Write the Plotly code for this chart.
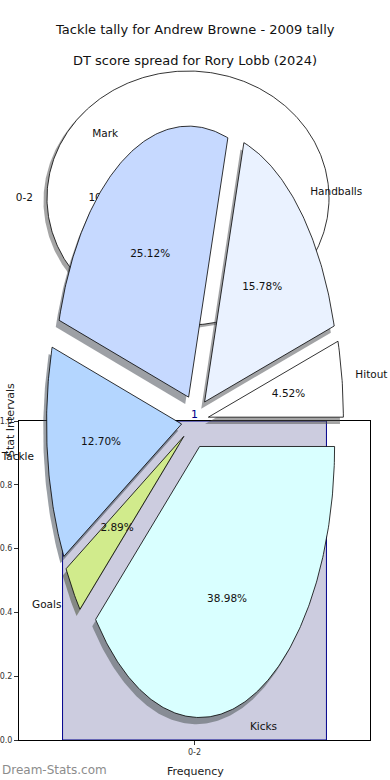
import numpy as np
import plotly.graph_objects as go

# ---------------- data ----------------
categories = ["Hitout", "Handballs", "Mark", "Tackle", "Goals", "Kicks"]
shares = [4.52, 15.78, 25.12, 12.70, 2.89, 38.98]
slice_colors = ["#ffffff", "#eaf2ff", "#c6d9ff", "#b4d6ff", "#d1eb8c", "#d9ffff"]

tally_labels = ["0-2"]
tally_values = [1]
tally_colors = ["#ffffff"]

hist_bins = ["0-2"]
hist_counts = [1]

y_ticks = [0.0, 0.2, 0.4, 0.6, 0.8, 1.0]

TITLE_1 = "Tackle tally for Andrew Browne - 2009 tally"
TITLE_2 = "DT score spread for Rory Lobb (2024)"

# ---------------- style ----------------
FONT = "DejaVu Sans"
W, H = 390, 780
SHADOW_DX, SHADOW_DY = -0.025, -0.025


def hex_rgb(h):
    h = h.lstrip("#")
    return tuple(int(h[i:i + 2], 16) for i in (0, 2, 4))


def pie_traces(labels, values, colors, explode, xa, ya, pct_fmt, fsize):
    shadows, wedges, texts = [], [], []
    total = float(sum(values))
    start = 0.0
    for lab, val, col in zip(labels, values, colors):
        sweep = 360.0 * val / total
        t1, t2 = start, start + sweep
        mid = np.deg2rad((t1 + t2) / 2.0)
        ox, oy = explode * np.cos(mid), explode * np.sin(mid)
        n = max(10, int(sweep * 1.5))
        th = np.deg2rad(np.linspace(t1, t2, n))
        ax_ = ox + np.cos(th)
        ay_ = oy + np.sin(th)
        if sweep < 359.9:
            px = np.concatenate([[ox], ax_, [ox]])
            py = np.concatenate([[oy], ay_, [oy]])
        else:
            px, py = ax_, ay_
        r, g, b = hex_rgb(col)
        shadows.append(go.Scatter(
            x=px + SHADOW_DX, y=py + SHADOW_DY, mode="lines", fill="toself",
            fillcolor=f"rgba({int(r*0.3)},{int(g*0.3)},{int(b*0.3)},0.5)",
            line=dict(width=0), hoverinfo="skip", showlegend=False,
            xaxis=xa, yaxis=ya))
        wedges.append(go.Scatter(
            x=px, y=py, mode="lines", fill="toself", fillcolor=col,
            line=dict(color="#000000", width=0.8), hoverinfo="skip",
            showlegend=False, xaxis=xa, yaxis=ya))
        c, s = np.cos(mid), np.sin(mid)
        texts.append(go.Scatter(
            x=[ox + 1.1 * c], y=[oy + 1.1 * s], mode="text", text=[lab],
            textposition="middle right" if c >= 0 else "middle left",
            textfont=dict(family=FONT, size=fsize, color="#111111"),
            hoverinfo="skip", showlegend=False, cliponaxis=False,
            xaxis=xa, yaxis=ya))
        texts.append(go.Scatter(
            x=[ox + 0.6 * c], y=[oy + 0.6 * s], mode="text",
            text=[pct_fmt.format(100.0 * val / total)],
            textposition="middle center",
            textfont=dict(family=FONT, size=fsize, color="#111111"),
            hoverinfo="skip", showlegend=False, cliponaxis=False,
            xaxis=xa, yaxis=ya))
        start = t2
    return shadows + wedges + texts


fig = go.Figure()

# histogram (subplot 1)
fig.add_trace(go.Bar(
    x=hist_bins, y=hist_counts, width=0.8,
    marker=dict(color="#ccccdf", line=dict(color="#00008b", width=1)),
    hoverinfo="skip", showlegend=False, xaxis="x", yaxis="y"))
fig.add_trace(go.Scatter(
    x=hist_bins, y=hist_counts, mode="text",
    text=[str(v) for v in hist_counts], textposition="top center",
    textfont=dict(family=FONT, size=11, color="#00008b"),
    cliponaxis=False, hoverinfo="skip", showlegend=False,
    xaxis="x", yaxis="y"))

# white single-slice pie (subplot 2)
for t in pie_traces(tally_labels, tally_values, tally_colors, 0.0,
                    "x2", "y2", "{:.0f}%", 10.5):
    fig.add_trace(t)

# main exploded pie (subplot 3)
for t in pie_traces(categories, shares, slice_colors, 0.1,
                    "x3", "y3", "{:.2f}%", 10.5):
    fig.add_trace(t)

hidden = dict(visible=False, showgrid=False, zeroline=False, fixedrange=True)

# pixel geometry of the stretched pies (centre / radii)
m_cx, m_cy, m_rx, m_ry = 195.0, 421.0, 135.0, 271.0
t_cx, t_cy, t_rx, t_ry = 188.0, 198.0, 141.0, 127.0

fig.update_layout(
    width=W, height=H,
    margin=dict(l=0, r=0, t=0, b=0, autoexpand=False),
    showlegend=False,
    paper_bgcolor="#ffffff", plot_bgcolor="rgba(0,0,0,0)",
    font=dict(family=FONT, color="#222222"),
    xaxis=dict(domain=[19 / W, 370 / W], type="category",
               range=[-0.532, 0.532], showline=True, linecolor="#000000",
               linewidth=1, mirror=True, ticks="outside", ticklen=4,
               tickcolor="#333333", tickfont=dict(size=8, color="#333333"),
               showgrid=False, zeroline=False, fixedrange=True,
               automargin=False),
    yaxis=dict(domain=[40 / H, 359 / H], range=[0, 1.0],
               tickvals=y_ticks, tickformat=".1f", showline=True,
               linecolor="#000000", linewidth=1, mirror=True,
               ticks="outside", ticklen=4, tickcolor="#333333",
               tickfont=dict(size=8, color="#333333"),
               showgrid=False, zeroline=False, fixedrange=True,
               automargin=False),
    xaxis2=dict(domain=[0, 1], anchor="y2",
                range=[-t_cx / t_rx, (W - t_cx) / t_rx], **hidden),
    yaxis2=dict(domain=[0, 1], anchor="x2",
                range=[-(H - t_cy) / t_ry, t_cy / t_ry], **hidden),
    xaxis3=dict(domain=[0, 1], anchor="y3",
                range=[-m_cx / m_rx, (W - m_cx) / m_rx], **hidden),
    yaxis3=dict(domain=[0, 1], anchor="x3",
                range=[-(H - m_cy) / m_ry, m_cy / m_ry], **hidden),
    annotations=[
        dict(text=TITLE_1, x=0.5, y=1 - 30 / H, xref="paper", yref="paper",
             xanchor="center", yanchor="middle", showarrow=False,
             font=dict(size=13, color="#111111")),
        dict(text=TITLE_2, x=0.5, y=1 - 61 / H, xref="paper", yref="paper",
             xanchor="center", yanchor="middle", showarrow=False,
             font=dict(size=13, color="#111111")),
        dict(text="Stat Intervals", x=10 / W, y=1 - 420 / H, xref="paper",
             yref="paper", xanchor="center", yanchor="middle",
             textangle=-90, showarrow=False,
             font=dict(size=11, color="#222222")),
        dict(text="Frequency", x=195 / W, y=0, xref="paper",
             yref="paper", xanchor="center", yanchor="bottom",
             showarrow=False, font=dict(size=11, color="#222222")),
        dict(text="Dream-Stats.com", x=0, y=1 - 770 / H, xref="paper",
             yref="paper", xanchor="left", yanchor="middle", showarrow=False,
             font=dict(size=12, color="#8c8c8c")),
    ],
)

fig.write_html("out.html",
               config={"displayModeBar": False, "staticPlot": True},
               post_script="document.body.style.margin='0';")
